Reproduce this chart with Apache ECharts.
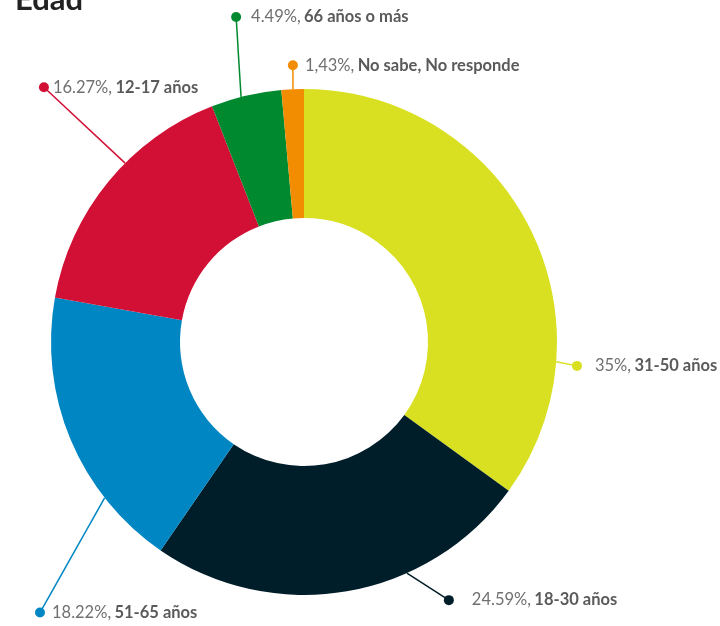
<!DOCTYPE html>
<html>
<head>
<meta charset="utf-8">
<script src="https://cdn.jsdelivr.net/npm/echarts@6/dist/echarts.min.js"></script>
<style>
  html, body { margin: 0; padding: 0; background: #fff; }
  #main { width: 720px; height: 626px; }
</style>
</head>
<body>
<div id="main"></div>
<script>
// datos
var categorias = ['31-50 años', '18-30 años', '51-65 años', '12-17 años', '66 años o más', 'No sabe, No responde'];
var porcentajes = [35, 24.59, 18.22, 16.27, 4.49, 1.43];
var etiquetasPct = ['35%', '24.59%', '18.22%', '16.27%', '4.49%', '1,43%'];
var colores = ['#d9e021', '#001e2a', '#0086c2', '#d20f35', '#00892f', '#f28c00'];

// centro y radios del donut (px)
var cx = 304, cy = 342, rIn = 124, rOut = 253;
// donde van las etiquetas: [angulo inicio linea, angulo punto, distancia punto, hueco texto]
var etiquetaPos = [
    [94.5, 95.0, 274, 13],
    [156, 150.7, 296, 18],
    [232, 224.3, 378, 7],
    [315, 314.4, 364, 4],
    [345.6, 348.2, 332, 10],
    [357.5, 357.7, 277, 7]
];

function polar(ang, r) {
    var a = ang * Math.PI / 180;
    return [cx + r * Math.sin(a), cy - r * Math.cos(a)];
}

var datos = categorias.map(function (c, i) {
    return {
        name: c,
        value: porcentajes[i],
        itemStyle: { color: colores[i] },
        labelLine: { lineStyle: { color: colores[i] } },
        label: {
            rich: {
                dot: { backgroundColor: colores[i] },
                pct: { padding: [0, 0, 0, etiquetaPos[i][3]] }
            }
        }
    };
});

var myChart = echarts.init(document.getElementById('main'));
var option = {
    animation: false,
    title: {
        text: 'Edad',
        left: 10,
        top: -21,
        textStyle: { fontFamily: 'Lato', fontSize: 31, fontWeight: 'bold', color: '#222' }
    },
    series: [{
        type: 'pie',
        center: [cx, cy],
        radius: [rIn, rOut],
        startAngle: 90,
        clockwise: true,
        avoidLabelOverlap: false,
        data: datos,
        label: {
            show: true,
            position: 'outside',
            formatter: function (p) {
                return '{dot|}{pct|' + etiquetasPct[p.dataIndex] + ',} {name|' + p.name + '}';
            },
            rich: {
                dot: { width: 10, height: 10, borderRadius: 5, padding: 0 },
                pct: { fontFamily: 'Lato', fontSize: 16.5, color: '#707070' },
                name: { fontFamily: 'Lato', fontSize: 16.5, fontWeight: 'bold', color: '#5a5a5a' }
            }
        },
        labelLine: { show: true, lineStyle: { width: 1.5 } },
        labelLayout: function (p) {
            var e = etiquetaPos[p.dataIndex];
            var ini = polar(e[0], rOut);
            var dot = polar(e[1], e[2]);
            return {
                x: dot[0] - 5,
                y: dot[1],
                align: 'left',
                verticalAlign: 'middle',
                labelLinePoints: [ini, dot, dot]
            };
        }
    }]
};
myChart.setOption(option);
</script>
</body>
</html>
